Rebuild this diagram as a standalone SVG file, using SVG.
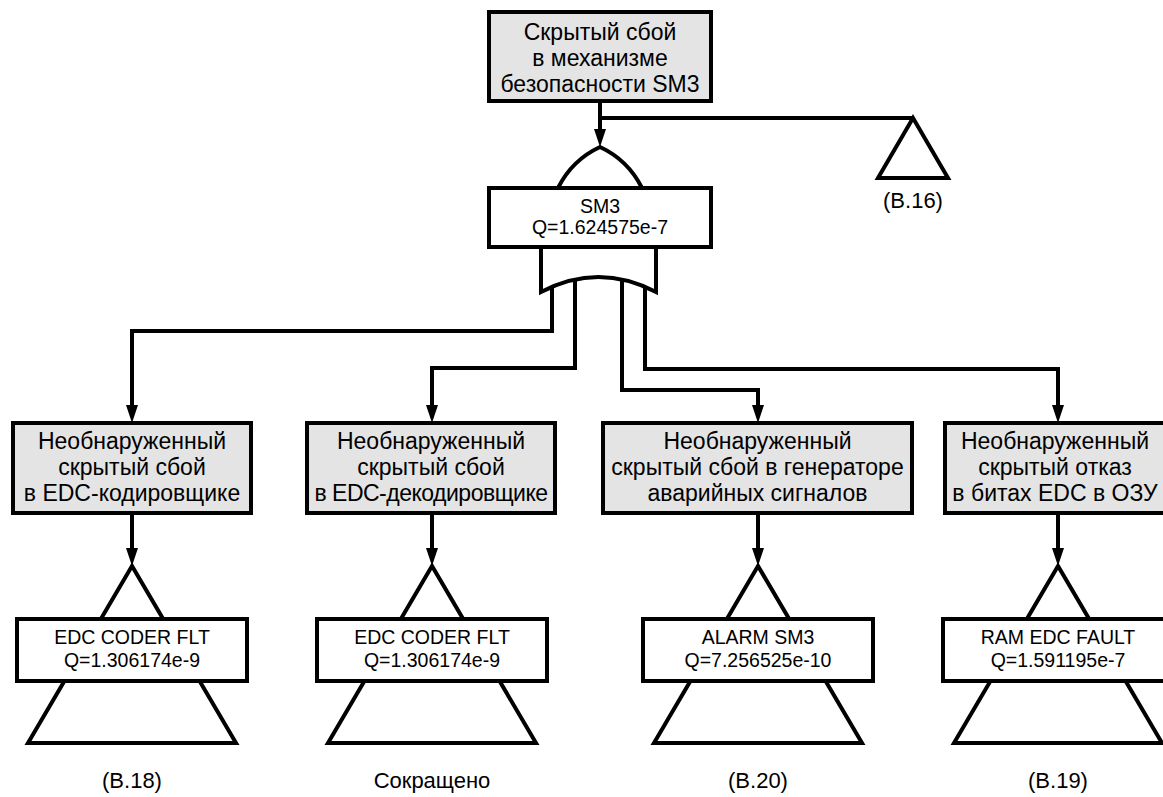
<svg xmlns="http://www.w3.org/2000/svg" width="1163" height="797" viewBox="0 0 1163 797">
<defs>
<style>
.ev{fill:#e4e4e4;stroke:#000;stroke-width:4}
.lb{fill:#fff;stroke:#000;stroke-width:4}
.sh{fill:#fff;stroke:#000;stroke-width:4;stroke-linejoin:miter}
.ln{fill:none;stroke:#000;stroke-width:4;stroke-linejoin:miter}
text{font-family:"Liberation Sans",Arial,sans-serif;fill:#000;text-anchor:middle}
.big{font-size:23px}
.sm{font-size:19.5px}
.ref{font-size:22px}
.tight{letter-spacing:-0.5px}
</style>
<marker id="ah" viewBox="0 0 18 12" refX="12" refY="6" markerWidth="18" markerHeight="12" markerUnits="userSpaceOnUse" orient="auto">
<path d="M0,0 L18,6 L0,12 z" fill="#000"/>
</marker>
</defs>
<rect width="1163" height="797" fill="#fff"/>

<g id="connectors">
<path class="ln" d="M600,101 V141" marker-end="url(#ah)"/>
<path class="ln" d="M600,118 H913"/>
<path class="ln" d="M552,288 V331 H132 V417" marker-end="url(#ah)"/>
<path class="ln" d="M575,281 V368 H432 V417" marker-end="url(#ah)"/>
<path class="ln" d="M622,281 V390 H758 V417" marker-end="url(#ah)"/>
<path class="ln" d="M645,288 V369 H1058 V417" marker-end="url(#ah)"/>
<path class="ln" d="M132,513 V560" marker-end="url(#ah)"/>
<path class="ln" d="M432,513 V560" marker-end="url(#ah)"/>
<path class="ln" d="M758,513 V560" marker-end="url(#ah)"/>
<path class="ln" d="M1058,513 V560" marker-end="url(#ah)"/>
</g>

<g id="top-event">
<rect class="ev" x="489" y="12" width="222" height="89"/>
<text class="big" x="600" y="40">Скрытый сбой</text>
<text class="big" x="600" y="66">в механизме</text>
<text class="big" x="600" y="92">безопасности SM3</text>
</g>

<g id="gate-sm3">
<path class="sh" d="M558,188 Q572,160 600,147 Q628,160 642,188 Z"/>
<path class="sh" d="M541,247 L541,292 Q598.5,262 656,292 L656,247 Z"/>
<rect class="lb" x="489" y="188" width="222" height="59"/>
<text class="sm" x="600" y="213">SM3</text>
<text class="sm" x="600" y="234">Q=1.624575e-7</text>
</g>

<g id="transfer-b16">
<polygon class="sh" points="913,118 878,178 948,178"/>
<text class="ref" x="913" y="208">(В.16)</text>
</g>

<g id="event-1">
<rect class="ev" x="13" y="423" width="238" height="90"/>
<text class="big" x="132" y="449">Необнаруженный</text>
<text class="big" x="132" y="475">скрытый сбой</text>
<text class="big" x="132" y="501">в EDC-кодировщике</text>
</g>
<g id="event-2">
<rect class="ev" x="307" y="423" width="248" height="90"/>
<text class="big" x="431" y="449">Необнаруженный</text>
<text class="big" x="431" y="475">скрытый сбой</text>
<text class="big tight" x="431" y="501">в EDC-декодировщике</text>
</g>
<g id="event-3">
<rect class="ev" x="603" y="423" width="309" height="90"/>
<text class="big" x="757.5" y="449">Необнаруженный</text>
<text class="big" x="757.5" y="475">скрытый сбой в генераторе</text>
<text class="big" x="757.5" y="501">аварийных сигналов</text>
</g>
<g id="event-4">
<rect class="ev" x="945" y="423" width="226" height="90"/>
<text class="big" x="1055" y="449">Необнаруженный</text>
<text class="big" x="1055" y="475">скрытый отказ</text>
<text class="big" x="1055" y="501">в битах EDC в ОЗУ</text>
</g>

<g id="transfer-1">
<polygon class="sh" points="132,566 28,743 236,743"/>
<rect class="lb" x="17" y="619" width="230" height="62"/>
<text class="sm" x="132" y="644">EDC CODER FLT</text>
<text class="sm" x="132" y="667">Q=1.306174e-9</text>
<text class="ref" x="132" y="788">(В.18)</text>
</g>
<g id="transfer-2">
<polygon class="sh" points="432,566 328,743 536,743"/>
<rect class="lb" x="317" y="619" width="230" height="62"/>
<text class="sm" x="432" y="644">EDC CODER FLT</text>
<text class="sm" x="432" y="667">Q=1.306174e-9</text>
<text class="ref" x="432" y="788">Сокращено</text>
</g>
<g id="transfer-3">
<polygon class="sh" points="758,566 654,743 862,743"/>
<rect class="lb" x="643" y="619" width="230" height="62"/>
<text class="sm" x="758" y="644">ALARM SM3</text>
<text class="sm" x="758" y="667">Q=7.256525e-10</text>
<text class="ref" x="758" y="788">(В.20)</text>
</g>
<g id="transfer-4">
<polygon class="sh" points="1058,566 954,743 1162,743"/>
<rect class="lb" x="943" y="619" width="230" height="62"/>
<text class="sm" x="1058" y="644">RAM EDC FAULT</text>
<text class="sm" x="1058" y="667">Q=1.591195e-7</text>
<text class="ref" x="1058" y="788">(В.19)</text>
</g>
</svg>
